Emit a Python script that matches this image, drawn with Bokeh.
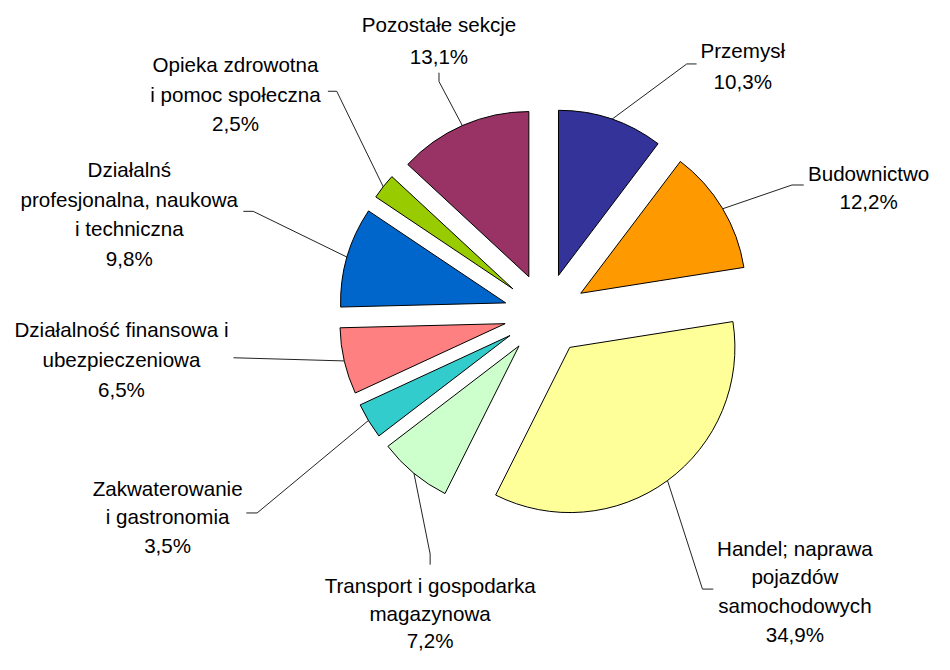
import math
from bokeh.plotting import figure
from bokeh.models import ColumnDataSource, Range1d
from bokeh.core.properties import value
from bokeh.embed import file_html
from bokeh.resources import INLINE

# ---- data ----
sectors = ["Przemysł", "Budownictwo", "Handel; naprawa pojazdów samochodowych",
           "Transport i gospodarka magazynowa", "Zakwaterowanie i gastronomia",
           "Działalność finansowa i ubezpieczeniowa",
           "Działalnś profesjonalna, naukowa i techniczna",
           "Opieka zdrowotna i pomoc społeczna", "Pozostałe sekcje"]
shares = [10.3, 12.2, 34.9, 7.2, 3.5, 6.5, 9.8, 2.5, 13.1]
label_lines = [["Przemysł"], ["Budownictwo"],
               ["Handel; naprawa", "pojazdów", "samochodowych"],
               ["Transport i gospodarka", "magazynowa"],
               ["Zakwaterowanie", "i gastronomia"],
               ["Działalność finansowa i", "ubezpieczeniowa"],
               ["Działalnś", "profesjonalna, naukowa", "i techniczna"],
               ["Opieka zdrowotna", "i pomoc społeczna"],
               ["Pozostałe sekcje"]]
colors = ["#333399", "#FF9900", "#FFFF99", "#CCFFCC", "#33CCCC",
          "#FF8080", "#0066CC", "#99CC00", "#993366"]

# ---- layout (reference pixel coordinates, y downwards) ----
W, H = 934, 654
CX, CY = 554.2, 321.5      # pie centre
R = 168                    # radius
EXPLODE = 42               # explode distance
FONT = "20.6px"
# label block: x centre, y of first line, line gap
label_pos = [(755, 51, 32), (883, 177, 29), (808, 561, 29.5), (437, 599, 28.5),
             (170, 500, 29), (123, 337, 31), (131, 173, 30.5), (239, 66, 30),
             (446, 25, 32)]
# leader line knee + end
leaders = [((698, 65), (708, 65)), ((805, 189), (817, 189)),
           ((714, 603), (725, 603)), ((437, 567), (437, 578)),
           ((261, 525), (250, 525)), ((237, 366), (237, 366)),
           ((257, 216), (247, 216)), ((342, 93), (333, 93)),
           ((446, 83), (446, 74))]

def fy(y):
    return 670 - y

total = sum(shares)
starts, ends, cxs, cys = [], [], [], []
arc_pts = []
cum = 0.0
for s in shares:
    a = cum / total
    b = (cum + s) / total
    cum += s
    st = math.pi / 2 - 2 * math.pi * a
    en = math.pi / 2 - 2 * math.pi * b
    mid = (st + en) / 2
    cx = CX + EXPLODE * math.cos(mid)
    cy = fy(CY) + EXPLODE * math.sin(mid)
    starts.append(st); ends.append(en); cxs.append(cx); cys.append(cy)
    arc_pts.append((cx + R * math.cos(mid), cy + R * math.sin(mid)))

p = figure(width=W, height=H, x_range=Range1d(0, 950), y_range=Range1d(0, 670),
           toolbar_location=None, output_backend="svg", min_border=0,
           x_axis_type=None, y_axis_type=None)
p.grid.visible = False
p.outline_line_color = None
p.background_fill_color = "white"

# leader lines
xs, ys = [], []
for (ax, ay), (knee, end) in zip(arc_pts, leaders):
    xs.append([ax, knee[0], end[0]])
    ys.append([ay, fy(knee[1]), fy(end[1])])
p.multi_line(xs, ys, line_color="#222222", line_width=1)

src = ColumnDataSource(dict(x=cxs, y=cys, start=starts, end=ends, color=colors, name=sectors))
p.wedge(x="x", y="y", radius=R, start_angle="start", end_angle="end", direction="clock",
        fill_color="color", line_color="black", line_width=1, source=src)

tx, ty, tt = [], [], []
for lines, s, (lx, ly, gap) in zip(label_lines, shares, label_pos):
    allines = lines + [f"{s:.1f}".replace(".", ",") + "%"]
    for i, t in enumerate(allines):
        tx.append(lx); ty.append(fy(ly + i * gap)); tt.append(t)
p.text(x=tx, y=ty, text=tt, text_font=value("Liberation Sans"), text_font_size=FONT,
       text_align="center", text_baseline="middle", text_color="black")

open("out.html", "w").write(file_html(p, INLINE))
